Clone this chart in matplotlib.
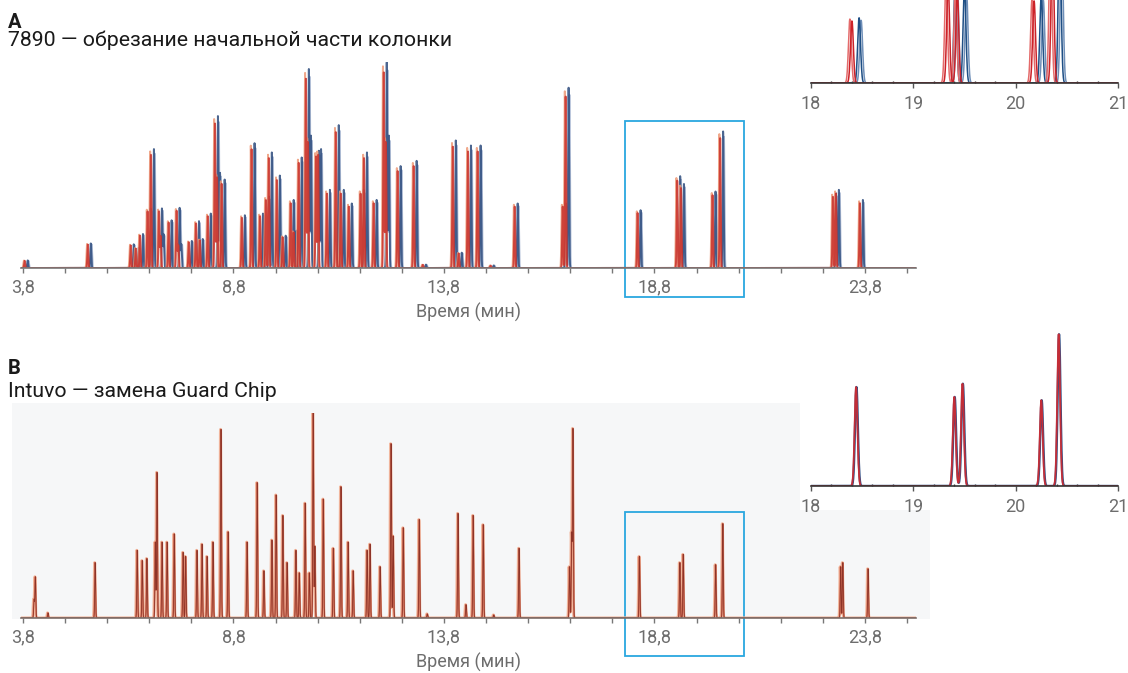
import matplotlib
matplotlib.use('Agg')
import matplotlib.pyplot as plt
import matplotlib.transforms as mtransforms
from matplotlib.patches import Rectangle
from matplotlib.ticker import FixedLocator
import numpy as np

plt.rcParams['font.family'] = ['Roboto', 'DejaVu Sans']

W, H = 1128, 673

# ---- panel A: 7890, trimmed column (retention time in min, relative height) ----
a_times = [3.82, 5.32, 6.34, 6.46, 6.56, 6.74, 6.82, 7.01, 7.05, 7.24,
           7.43, 7.47, 7.72, 7.89, 7.98, 8.17, 8.34, 8.39, 8.50, 8.98,
           9.21, 9.41, 9.55, 9.62, 9.81, 9.95, 10.14, 10.21, 10.33, 10.50,
           10.55, 10.74, 10.79, 11.00, 11.21, 11.33, 11.52, 11.80, 11.88, 12.11,
           12.35, 12.40, 12.68, 13.06, 13.28, 13.99, 14.13, 14.35, 14.58, 14.89,
           15.46, 16.60, 16.67, 18.38, 19.32, 19.41, 20.16, 20.34, 23.02, 23.09,
           23.66]
a_heights = [0.036, 0.117, 0.113, 0.097, 0.162, 0.283, 0.566, 0.283, 0.16, 0.227,
             0.286, 0.113, 0.129, 0.223, 0.138, 0.259, 0.723, 0.453, 0.421, 0.251,
             0.594, 0.259, 0.34, 0.55, 0.44, 0.154, 0.324, 0.178, 0.526, 0.947,
             0.63, 0.558, 0.566, 0.372, 0.68, 0.372, 0.307, 0.372, 0.55, 0.324,
             0.979, 0.63, 0.485, 0.51, 0.016, 0.607, 0.073, 0.583, 0.583, 0.012,
             0.307, 0.307, 0.858, 0.275, 0.437, 0.40, 0.364, 0.65, 0.356, 0.372,
             0.324]
# overlaid runs: retention shift (min) and height factor
a_shifts = [0.0, 0.02, 0.09, 0.11]
a_scales = [1.0, 0.97, 1.02, 0.98]
a_colors = ['#ee9a78', '#c8302b', '#2c4b7d', '#a7b6d2']
a_inset_colors = ['#e46b6b', '#cc2229', '#1f4f85', '#6f8fb8']

# ---- panel B: Intuvo, Guard Chip replaced ----
b_times = [4.06, 4.09, 4.39, 5.51, 6.51, 6.63, 6.74, 6.94, 6.98, 7.10,
           7.22, 7.39, 7.60, 7.66, 7.93, 8.05, 8.17, 8.31, 8.50, 8.67,
           9.12, 9.36, 9.52, 9.71, 9.81, 9.97, 10.07, 10.28, 10.36, 10.50,
           10.60, 10.69, 10.73, 10.93, 11.17, 11.35, 11.52, 11.64, 11.97, 12.04,
           12.28, 12.54, 12.59, 12.83, 13.21, 13.40, 14.13, 14.32, 14.49, 14.73,
           14.98, 15.58, 16.78, 16.83, 16.86, 18.44, 19.40, 19.48, 20.25, 20.42,
           23.22, 23.27, 23.87]
b_heights = [0.09, 0.20, 0.025, 0.27, 0.33, 0.28, 0.29, 0.37, 0.71, 0.37,
             0.37, 0.41, 0.32, 0.30, 0.33, 0.36, 0.30, 0.37, 0.92, 0.42,
             0.37, 0.66, 0.23, 0.38, 0.60, 0.50, 0.27, 0.33, 0.22, 0.56,
             0.22, 1.0, 0.35, 0.58, 0.34, 0.64, 0.37, 0.23, 0.33, 0.36,
             0.25, 0.85, 0.40, 0.44, 0.48, 0.02, 0.51, 0.065, 0.50, 0.455,
             0.015, 0.34, 0.25, 0.41, 0.92, 0.30, 0.27, 0.31, 0.26, 0.46,
             0.25, 0.27, 0.24]
b_shifts = [-0.008, 0.0, 0.004]
b_colors = ['#f2b9a0', '#d9785e', '#8e3428']
b_widths = [2.2, 1.2, 0.6]

tick_pos = [3.8, 8.8, 13.8, 18.8, 23.8]
tick_labels = ['3,8', '8,8', '13,8', '18,8', '23,8']
minor_pos = [4.8, 5.8, 6.8, 7.8, 9.8, 10.8, 11.8, 12.8, 14.8, 15.8, 16.8, 17.8,
             19.8, 20.8, 21.8, 22.8, 24.8]
inset_ticks = [18, 19, 20, 21]

AXIS_GRAY = '#777777'
TEXT_GRAY = '#6d6d6d'
BOX_BLUE = '#2aa7df'


def chrom(t, times, heights, shift=0.0, scale=1.0, width=0.012):
    y = np.zeros_like(t)
    for p, h in zip(times, heights):
        y += scale * h * np.exp(-0.5 * ((t - p - shift) / width) ** 2)
    return y


fig = plt.figure(figsize=(W / 100, H / 100), dpi=100)


def px_axes(l, t, r, b):
    return fig.add_axes([l / W, 1 - b / H, (r - l) / W, (b - t) / H])


def style_main(ax):
    for s in ['top', 'left', 'right']:
        ax.spines[s].set_visible(False)
    ax.spines['bottom'].set_color(AXIS_GRAY)
    ax.spines['bottom'].set_linewidth(1.2)
    ax.set_xlim(3.75, 25.0)
    ax.set_ylim(0, 1.0)
    ax.set_yticks([])
    ax.xaxis.set_major_locator(FixedLocator(tick_pos))
    ax.xaxis.set_minor_locator(FixedLocator(minor_pos))
    ax.set_xticklabels(tick_labels)
    ax.tick_params(axis='x', which='both', length=3.8, width=1, color=AXIS_GRAY,
                   labelsize=13, labelcolor=TEXT_GRAY, pad=3.5)
    ax.set_xlabel('Время (мин)', fontsize=13, color=TEXT_GRAY, labelpad=5)


def style_inset(ax, ytop):
    for s in ['top', 'left', 'right']:
        ax.spines[s].set_visible(False)
    ax.spines['bottom'].set_color('#333333')
    ax.spines['bottom'].set_linewidth(1.2)
    ax.set_xlim(18, 21)
    ax.set_ylim(0, ytop)
    ax.set_yticks([])
    ax.set_xticks(inset_ticks)
    ax.set_xticklabels([str(v) for v in inset_ticks])
    ax.xaxis.set_minor_locator(FixedLocator(np.arange(18.2, 21, 0.2)))
    ax.tick_params(axis='x', which='major', length=3.8, width=1, color='#555555',
                   labelsize=13, labelcolor=TEXT_GRAY, pad=4.5)
    ax.tick_params(axis='x', which='minor', length=1.5, width=1, color='#333333',
                   direction='in')


t = np.arange(3.75, 25.0, 0.002)

# background blocks of panel B
fig.add_artist(Rectangle((12 / W, 1 - 619 / H), (930 - 12) / W, (619 - 403) / H,
                         transform=fig.transFigure, facecolor='#f6f7f8',
                         edgecolor='none', zorder=-10))
fig.add_artist(Rectangle((800 / W, 1 - 510 / H), (W - 800) / W, (510 - 330) / H,
                         transform=fig.transFigure, facecolor='white',
                         edgecolor='none', zorder=-9))

# ---- panel A main ----
axA = px_axes(20.9, 62, 915.5, 268)
axA.set_facecolor('none')
for i in [3, 2, 0, 1]:
    axA.plot(t, chrom(t, a_times, a_heights, a_shifts[i], a_scales[i]),
             color=a_colors[i], lw=1.4, alpha=0.85)
style_main(axA)
trA = mtransforms.blended_transform_factory(axA.transData, axA.transAxes)
axA.add_patch(Rectangle((18.1, -0.141), 2.83, 0.855, transform=trA, fill=False,
                        edgecolor=BOX_BLUE, lw=1.3, clip_on=False))

# ---- panel A inset ----
insA = px_axes(811, 0, 1118, 83)
insA.set_facecolor('white')
for i in [3, 2, 0, 1]:
    insA.plot(t, chrom(t, a_times, a_heights, a_shifts[i], a_scales[i], 0.014),
              color=a_inset_colors[i], lw=1.1)
style_inset(insA, 0.357)

# ---- panel B main ----
axB = px_axes(20.9, 413, 915.5, 618)
axB.set_facecolor('none')
for s, c, lw in zip(b_shifts, b_colors, b_widths):
    axB.plot(t, chrom(t, b_times, b_heights, s, 1.0, 0.01), color=c, lw=lw)
style_main(axB)
axB.spines['bottom'].set_color('#7d6f6a')
trB = mtransforms.blended_transform_factory(axB.transData, axB.transAxes)
axB.add_patch(Rectangle((18.1, -0.185), 2.83, 0.702, transform=trB, fill=False,
                        edgecolor=BOX_BLUE, lw=1.3, clip_on=False))

# ---- panel B inset ----
insB = px_axes(811, 330, 1118, 486)
insB.set_facecolor('white')
insB.plot(t, chrom(t, b_times, b_heights, 0.004, 1.0, 0.014), color='#2f4f86', lw=1.7)
insB.plot(t, chrom(t, b_times, b_heights, 0.0, 1.0, 0.014), color='#d42a2f', lw=1.3,
          alpha=0.9)
style_inset(insB, 0.473)

# ---- panel titles ----
fig.text(8 / W, 1 - 28 / H, 'A', fontsize=14.5, fontweight='bold', color='#1a1a1a',
         va='baseline')
fig.text(8 / W, 1 - 46 / H, '7890 — обрезание начальной части колонки', fontsize=15.3,
         color='#1a1a1a', va='baseline')
fig.text(8 / W, 1 - 374 / H, 'B', fontsize=14.5, fontweight='bold', color='#1a1a1a',
         va='baseline')
fig.text(8 / W, 1 - 397 / H, 'Intuvo — замена Guard Chip', fontsize=15.3,
         color='#1a1a1a', va='baseline')

fig.savefig('out.png', dpi=100)
